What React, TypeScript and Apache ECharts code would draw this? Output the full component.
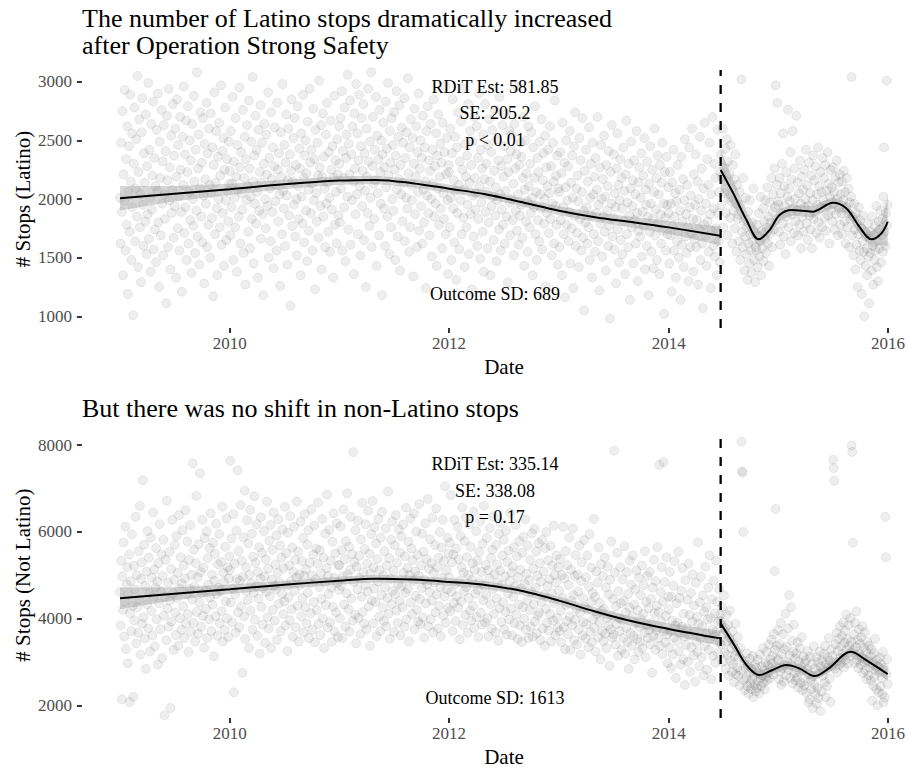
import { useEffect, useRef } from "react";
import * as echarts from "echarts";

const DAY_MS = 86400000;
const SERIF = "'Liberation Serif', 'Times New Roman', 'DejaVu Serif', serif";

// Policy start (Operation Strong Safety)
const cutoffDate = "2014-06-23";
const xTickYears = [2010, 2012, 2014, 2016];
const latinoTicks = [1000, 1500, 2000, 2500, 3000];
const notLatinoTicks = [2000, 4000, 6000, 8000];

// Daily stop counts, one value every second day starting on 1 January of each year.
const latino2009 = [
  2010, 1620, 2480, 1890, 2750, 1350, 2210, 1980, 2930, 1560, 2340, 1780, 2620, 1190, 2060,
  2450, 1720, 2890, 2150, 1480, 2560, 1930, 1010, 2300, 2780, 1640, 2090, 2510, 1850, 3050,
  1420, 2230, 2680, 1760, 2040, 1290, 2570, 2860, 1950, 1600, 2390, 2140, 1810, 2720, 1530,
  2280, 1870, 2990, 1660, 2420, 2010, 1380, 2640, 1910, 2200, 2830, 1570, 2350, 1740, 2110,
  1460, 2590, 2070, 2900, 1800, 1250, 2490, 2180, 1690, 2760, 1960, 2320, 1520, 2630, 2040,
  1830, 2410, 1110, 2710, 2160, 1590, 2940, 1990, 2270, 1400, 2540, 1880, 2080, 2810, 1670,
  2370, 1940, 2600, 1330, 2190, 2850, 1750, 2460, 2020, 1560, 2700, 2250, 1890, 1210, 2530,
  2120, 2960, 1710, 2380, 1930, 2670, 1480, 2230, 2790, 1620, 2060, 2500, 1820, 2330, 1370,
  2640, 2000, 1770, 2880, 2150, 1540, 2420, 1900, 3080, 1680, 2260, 2550, 1440, 2090, 2740,
  1850, 2310, 1630, 2690, 2030, 1280, 2470, 2170, 1960, 2820, 1590, 2390, 1780, 2600, 2120,
  1500, 2730, 2050, 1840, 2440, 1170, 2290, 2910, 1700, 2140, 2580, 1920, 1350, 2360, 2000,
  2650, 1760, 2200, 2970, 1610, 2410, 1880, 2520, 1430, 2250, 2780, 1990, 1650, 2340, 2070, 1810, 2490, 2130,
];
const latino2010 = [
  2240, 1690, 2580, 1930, 2130, 2870, 1480, 2320, 2010, 1760, 2690, 2190, 1380, 2460, 2080,
  1850, 2950, 2270, 1620, 2400, 2050, 1910, 2760, 1540, 2180, 2530, 1270, 2340, 1990, 2630,
  2110, 1720, 2840, 2260, 1580, 2020, 2490, 1830, 3040, 2150, 1450, 2370, 1960, 2710, 1790,
  2420, 2060, 1330, 2590, 1900, 2230, 2800, 1660, 2140, 2480, 1870, 1180, 2300, 2640, 2000,
  1750, 2550, 2210, 1940, 2910, 1500, 2350, 2090, 1640, 2740, 2170, 1890, 2440, 1410, 2280,
  2610, 1980, 2120, 1560, 2820, 2250, 1810, 2390, 2040, 1260, 2570, 2190, 1700, 2980, 2070,
  1920, 2460, 1600, 2310, 2720, 2030, 1440, 2160, 2600, 1860, 2380, 1090, 2240, 2850, 1770,
  2150, 2520, 1950, 2690, 1680, 2290, 2000, 1520, 2790, 2110, 1830, 2430, 2260, 1350, 2560,
  2020, 1790, 2890, 2180, 1630, 2370, 2500, 1900, 2220, 1470, 2660, 2080, 1730, 2940, 2310,
  1880, 2420, 2130, 1560, 2770, 1990, 2340, 1230, 2590, 2050, 1810, 2480, 2200, 1670, 3010,
  2270, 1940, 2630, 1400, 2190, 2730, 1850, 2360, 2090, 1590, 2550, 1960, 2820, 2140, 1720,
  2400, 2010, 1550, 2670, 2250, 1910, 2450, 1330, 2180, 2880, 1780, 2330, 2060, 1620, 2510, 2210, 1860, 2620,
];
const latino2011 = [
  2300, 1800, 2690, 2090, 2920, 1560, 2410, 2180, 1930, 2780, 1470, 2350, 2550, 2020, 3060,
  1740, 2470, 2210, 2840, 1610, 2380, 1990, 2620, 2150, 1360, 2730, 2260, 1870, 2980, 2040,
  2560, 1700, 2330, 2890, 2110, 1520, 2450, 2690, 1940, 2240, 2810, 1650, 2390, 2070, 1250,
  2600, 2190, 1880, 2940, 2320, 1770, 2490, 2010, 3080, 1590, 2280, 2700, 2130, 1830, 2420,
  2160, 2870, 1430, 2540, 2050, 2340, 1690, 2760, 2230, 1960, 2500, 1180, 2380, 2650, 1920,
  2270, 1600, 2830, 2100, 2430, 1850, 2990, 2200, 1530, 2580, 2310, 1760, 2690, 2000, 2460,
  1900, 2740, 2250, 1480, 2370, 2920, 2080, 1680, 2530, 2170, 2800, 1390, 2290, 2040, 2610,
  1810, 2480, 2140, 2860, 1640, 2350, 2010, 2570, 1920, 3030, 2220, 1550, 2440, 1760, 2680,
  2120, 1990, 2520, 1340, 2300, 2770, 1870, 2190, 2620, 1590, 2400, 2060, 2900, 1730, 2260,
  2500, 1940, 2350, 1620, 2710, 2080, 1800, 2440, 2150, 1240, 2580, 2030, 2790, 1880, 2330,
  1690, 2240, 2640, 2000, 1510, 2420, 2130, 2850, 1850, 2280, 1960, 2560, 1430, 2370, 2090,
  2720, 1780, 2190, 2470, 1920, 2310, 1580, 2650, 2050, 1830, 2400, 2960, 1700, 2210, 2520, 1990, 1360, 2290,
];
const latino2012 = [
  2230, 1760, 2600, 2010, 1480, 2390, 2850, 1920, 2160, 1630, 2530, 2070, 1310, 2440, 1880,
  2740, 2120, 1570, 2320, 1990, 2660, 1700, 2250, 2940, 1840, 2080, 1420, 2470, 2190, 1760,
  2370, 1950, 2810, 1530, 2140, 2580, 1870, 2290, 1230, 2490, 2030, 1680, 2700, 2180, 1910,
  2050, 2620, 1600, 2350, 1830, 2900, 2110, 1490, 2420, 1970, 2260, 1720, 2550, 1380, 2170,
  2810, 1890, 2300, 2060, 1580, 2460, 1800, 2680, 2150, 1350, 2400, 1940, 2590, 2020, 1650,
  2240, 2760, 1860, 2100, 1470, 2510, 1990, 2330, 1740, 2870, 2040, 1560, 2280, 1910, 2630,
  1780, 2190, 2450, 1620, 2070, 2720, 1850, 2340, 1290, 2230, 2580, 1970, 1690, 2410, 2000,
  2550, 1820, 2130, 1520, 2640, 2260, 1900, 2380, 1730, 2960, 2040, 1610, 2290, 1860, 2480,
  1950, 2360, 1670, 2180, 2700, 1430, 2080, 2500, 1810, 2220, 1980, 1550, 2620, 2110, 1760,
  2300, 1880, 2570, 2010, 1350, 2440, 1930, 2180, 2790, 1700, 2060, 1480, 2350, 1820, 2230,
  1640, 2490, 2040, 1920, 2680, 1570, 2160, 2390, 1790, 2000, 2540, 1250, 2270, 1880, 2110,
  2420, 1710, 2050, 2620, 1830, 2280, 1520, 1960, 2480, 2150, 1620, 2840, 1940, 2200, 1780, 2370, 1440, 2090,
];
const latino2013 = [
  2060, 1590, 2400, 1820, 2220, 1350, 2650, 1930, 1700, 2310, 1160, 2100, 2500, 1780, 1990,
  2280, 1640, 1890, 2580, 1450, 2140, 1750, 2370, 2010, 1240, 2450, 1860, 2740, 1600, 2090,
  1710, 2200, 1980, 1420, 2520, 1830, 2330, 1560, 2060, 2690, 1670, 1900, 1050, 2240, 1800,
  2420, 1930, 1620, 2150, 1760, 2610, 1480, 2010, 2300, 1860, 1330, 2480, 2040, 1700, 2190,
  1550, 2350, 1880, 2080, 2700, 1640, 1950, 1220, 2270, 1790, 2460, 2000, 1510, 2170, 1850,
  2540, 1720, 2020, 1390, 2290, 1900, 2110, 1600, 2410, 1770, 980, 2230, 1960, 2630, 1680,
  1840, 2380, 1570, 2050, 1930, 1280, 2260, 2560, 1740, 2120, 1460, 1990, 2340, 1650, 2180,
  1920, 1530, 2440, 1810, 2070, 1360, 2210, 2670, 1700, 1970, 1590, 2300, 1860, 1140, 2090,
  2490, 1760, 1940, 2160, 1450, 2330, 1820, 2040, 1620, 2580, 1880, 1300, 2140, 1730, 2270,
  1680, 2010, 2390, 1510, 1890, 2200, 1770, 2520, 1400, 2080, 1950, 1600, 2320, 1850, 1180,
  2130, 1720, 2450, 1960, 1550, 2250, 1830, 1410, 2060, 2600, 1690, 1910, 2180, 1480, 2370,
  1790, 2040, 1360, 2290, 1870, 1620, 2140, 2480, 1730, 1960, 1020, 2230, 1840, 1560, 2360, 1950, 1700, 2100,
];
const latino2014Pre = [
  1880, 1450, 2230, 1690, 1960, 1210, 2140, 1770, 2420, 1560, 1850, 2050, 1330, 1980, 1640,
  2290, 1720, 1500, 2080, 1900, 1140, 2360, 1610, 1810, 2170, 1420, 1990, 2510, 1680, 1870,
  1540, 2120, 1760, 1300, 2440, 1930, 1590, 2030, 1710, 2600, 1830, 1380, 2210, 1660, 1950,
  2380, 1590, 1820, 2150, 1270, 2000, 1740, 2530, 1480, 1900, 2260, 1620, 1070, 2090, 1780,
  2650, 1690, 1960, 1430, 2340, 1810, 2120, 1550, 2480, 1870, 1240, 2040, 1730, 2700, 1600,
  1920, 2300, 1510, 2180, 1750, 1350, 2590, 1880, 1640, 2060, 1460, 2230,
];
const latino2014Post = [
  2380, 1950, 2190, 2600, 1760, 2270, 2050, 2430, 1880, 2150, 2510, 1690, 2320, 2010, 2210,
  1840, 2460, 1980, 2090, 1620, 2290, 1900, 2170, 1750, 2380, 1960, 1550, 2120, 1830,
  1870, 1640, 2060, 1480, 1950, 3020, 1720, 1590, 2180, 1810, 1390, 1680, 2010, 1530, 1760,
  1310, 1890, 1620, 1450, 1990, 1700, 1560, 1370, 1800, 1640, 2090, 1480, 1720, 1290, 1590,
  1560, 1780, 1420, 1690, 1880, 1510, 1640, 2020, 1350, 1730, 1580, 1920, 1470, 1810, 1660,
  1990, 1540, 1760, 2100, 1620, 1850, 1430, 1970, 1700, 1800, 2180, 1590, 1890, 2040, 1740,
  2260, 1930, 2970, 1820, 2120, 2820, 1980,
];
const latino2015 = [
  1950, 1720, 2180, 1610, 2050, 1880, 2300, 1790, 2560, 1680, 2110, 1940, 1530, 2230, 1850, 2020,
  2760, 1760, 2090, 1980, 2400, 1640, 2170, 1870, 2580, 1920, 1710, 2260, 2000, 1810,
  2710, 1900, 2140, 1690, 2050, 1780, 2330, 1960, 1580, 2190, 1850, 2080, 1720, 2250, 1930,
  2000, 2420, 1790, 2120, 1650, 1940, 2310, 1860, 2050, 1740, 2200, 1580, 1990, 2370, 1830,
  2160, 1880, 2280, 1710, 2040, 1950, 2440, 1800, 2110, 1670, 2230, 1920, 2060, 1760, 2350,
  1990, 2180, 1840, 2290, 1730, 2070, 1950, 2400, 1860, 2130, 1620, 2020, 2250, 1900, 2100,
  1810, 2270, 1960, 2060, 1740, 2190, 1870, 2330, 2000, 1690, 2140, 1920, 2210, 1780, 2040, 1880,
  2150, 1700, 1990, 2240, 1810, 2060, 1620, 1930, 2180, 1760, 1880, 2090, 1590, 1970, 1830, 2020,
  3040, 1690, 1850, 1520, 1960, 1740, 1400, 1880, 1610, 1790, 1250, 1700, 1930, 1560, 1820,
  1480, 1750, 1190, 1640, 1860, 1550, 1000, 1720, 1430, 1680, 1580, 1350, 1790, 1510, 1110, 1660,
  1540, 1720, 1390, 1850, 1600, 1270, 1690, 1480, 1770, 1560, 1940, 1420, 1650, 1300, 1810,
  1580, 1740, 1900, 1460, 1690, 1830, 1550, 2020, 2440, 1720, 1600, 1880, 3010, 1780, 1950,
];

const notLatino2009 = [
  4620, 3850, 5340, 2150, 4980, 4210, 5760, 3590, 4400, 6120, 3310, 4790, 5190, 2980, 4560,
  5480, 2090, 4130, 4870, 3720, 5950, 4300, 2210, 5220, 3960, 4680, 6350, 3440, 5010, 4270,
  3680, 5560, 4450, 6600, 3180, 4920, 5300, 3890, 7190, 4040, 5710, 3550, 4760, 2850, 5090,
  4340, 6020, 3780, 5410, 4590, 3250, 5870, 4180, 4950, 3620, 6450, 4500, 5140, 3370, 4720,
  5630, 3990, 4860, 2950, 5280, 4360, 6180, 3760, 4640, 5480, 3100, 4990, 5820, 4070, 1780,
  4510, 5360, 3510, 6720, 4240, 4830, 3820, 5540, 4420, 1950, 5150, 3940, 6280, 4580, 3290,
  4900, 5700, 4150, 3630, 5910, 4480, 5060, 3380, 6390, 4700, 4020, 5420, 3750, 4810, 6040,
  4290, 5230, 3560, 4930, 6500, 3890, 4570, 5780, 4110, 3240, 5360, 4690, 6160, 3700, 5010,
  4450, 7580, 3910, 5590, 4740, 3480, 5280, 6830, 4160, 4960, 3660, 5720, 4380, 7350, 5080,
  3820, 4590, 6280, 4070, 5180, 3340, 5860, 4650, 4230, 6010, 3560, 5400, 4790, 3990, 5630,
  4490, 6430, 3720, 5020, 4330, 5750, 3140, 4880, 5500, 4060, 6190, 4570, 3610, 5260, 4720,
  5950, 3900, 4640, 5310, 4180, 6580, 3480, 5070, 4850, 3750, 5660, 4400, 6310, 4010, 5190, 3580, 4930, 5440,
];
const notLatino2010 = [
  5120, 7640, 4380, 5850, 3920, 4700, 6410, 2310, 5270, 4560, 3690, 6030, 4920, 7420, 4150,
  5560, 3810, 4880, 6620, 4290, 5340, 2760, 4970, 5880, 4060, 6950, 3540, 5190, 4640, 6270,
  4430, 5740, 3330, 5010, 6510, 4190, 4820, 5960, 3750, 5430, 4600, 6820, 3980, 5290, 4750,
  6180, 3610, 5080, 4470, 5650, 3200, 4930, 6340, 4280, 5520, 3870, 4710, 6020, 4980, 3450,
  5370, 4620, 6700, 4040, 5160, 3780, 5800, 4520, 6160, 3330, 4900, 5590, 4210, 6450, 4750,
  3960, 5250, 4680, 5920, 3520, 5060, 6290, 4350, 4840, 5690, 3720, 5410, 4570, 6060, 4110,
  5170, 4400, 6580, 3850, 5510, 4760, 3260, 5980, 4500, 5230, 3970, 6370, 4870, 4220, 5640,
  3590, 5080, 6120, 4650, 5360, 3810, 4950, 6700, 4300, 5550, 3480, 5020, 4780, 6240, 4060,
  5330, 4480, 5860, 3690, 4990, 6410, 4270, 5140, 3900, 5710, 4600, 6040, 3560, 5290, 4820,
  4130, 6520, 5000, 3750, 5480, 4390, 6150, 3460, 4910, 5620, 4200, 5270, 6680, 3880, 4730,
  5580, 3630, 5050, 4460, 6300, 4010, 5410, 3330, 4850, 5960, 4320, 5170, 6860, 3800, 4990,
  4570, 6050, 3920, 5340, 4720, 3470, 5780, 4280, 6430, 4940, 3710, 5510, 4150, 6200, 4830, 3580, 5230, 4670,
];
const notLatino2011 = [
  5240, 4010, 6130, 4760, 5580, 3560, 4980, 6520, 4330, 5370, 3820, 5790, 4590, 6890, 5020,
  4220, 5660, 3710, 5130, 6350, 4470, 5490, 3960, 7840, 4850, 5310, 4100, 6040, 3440, 5200,
  4680, 6260, 4020, 5450, 4940, 3650, 5830, 4510, 6670, 4160, 5070, 3890, 5610, 4780, 6180,
  3760, 5270, 4630, 6490, 4290, 5500, 3380, 5040, 5950, 4420, 6710, 3900, 5180, 4700, 6110,
  4390, 5740, 3600, 5380, 4860, 6300, 4050, 5120, 3720, 5870, 4550, 6460, 4260, 5000, 3950,
  5560, 4730, 6080, 3830, 5230, 4480, 6930, 4120, 5400, 3540, 4920, 5820, 4340, 6240, 4650,
  5110, 3700, 5690, 4570, 6390, 4190, 5290, 3910, 4800, 6060, 4410, 5520, 3620, 5900, 4750,
  4270, 6170, 5060, 3820, 5440, 4600, 6560, 3990, 5170, 4690, 5780, 3480, 5010, 6310, 4380,
  5620, 4110, 5350, 4870, 6430, 3760, 5090, 4530, 6010, 4210, 5470, 3940, 4990, 6640, 4460,
  3880, 5230, 4710, 5960, 4030, 5550, 3570, 4900, 6200, 4360, 5380, 4790, 6760, 3830, 5150,
  4620, 5830, 3990, 5280, 4420, 6330, 3690, 5060, 4840, 5700, 4150, 6540, 4560, 5190, 3780,
  5410, 4300, 6000, 4730, 3600, 5640, 4940, 6280, 4080, 5330, 4520, 7050, 3910, 5120, 4680, 5870, 4250, 5500,
];
const notLatino2012 = [
  4960, 5750, 4180, 6850, 4620, 5300, 3720, 5480, 4370, 6280, 4800, 3950, 5620, 4520, 6120,
  4260, 5370, 4870, 3530, 5910, 4410, 5190, 6560, 3860, 5060, 4640, 5790, 4090, 6330, 4730,
  5420, 3680, 5010, 4480, 6180, 4190, 5660, 3960, 4900, 5280, 4300, 6470, 3790, 5130, 4580,
  6020, 4040, 5340, 4670, 3580, 5540, 4850, 6250, 4140, 5080, 3870, 5730, 4430, 6600, 4760,
  3920, 5240, 4550, 5860, 4010, 5120, 3600, 4940, 6090, 4340, 5400, 3780, 5590, 4690, 6360,
  4120, 5030, 3690, 5700, 4470, 5250, 4830, 3500, 5960, 4250, 5110, 6210, 3930, 4780, 5460,
  4380, 5820, 3760, 4980, 4160, 6030, 3640, 5310, 4590, 5570, 3990, 4870, 6440, 4240, 5070,
  3620, 5210, 4510, 5650, 3900, 4750, 6160, 4100, 5440, 3540, 4960, 4330, 5790, 3850, 5130,
  4700, 3470, 5520, 4270, 5890, 4000, 4810, 6290, 3760, 5040, 4420, 5690, 3560, 4890, 4200,
  5360, 3820, 4630, 5970, 3590, 5160, 4340, 6070, 3940, 4720, 5550, 3670, 4990, 4080, 5740,
  4150, 5280, 3510, 4860, 4390, 5820, 3780, 5090, 4560, 3380, 5630, 4230, 6000, 3910, 4760,
  5350, 3730, 4920, 4110, 5680, 3480, 4580, 5230, 3960, 6150, 4370, 5010, 3620, 4840, 5460, 4020, 3800, 5190,
];
const notLatino2013 = [
  4650, 3720, 5380, 4190, 3460, 5010, 4480, 6120, 3810, 4930, 3300, 5560, 4320, 3950, 5240,
  3640, 4780, 5870, 4060, 3290, 5130, 4420, 3850, 6080, 4550, 3510, 4990, 3980, 5470, 4230,
  3410, 5020, 4630, 3760, 5690, 4140, 3180, 4870, 5300, 3620, 4480, 3930, 5810, 4270, 3550,
  4960, 3880, 5460, 4210, 3350, 4740, 5950, 3700, 4390, 5180, 3460, 4600, 3990, 6300, 3790,
  4510, 3250, 5090, 4110, 4830, 3580, 5640, 3930, 4370, 3070, 5260, 4180, 3720, 4990, 3490,
  4230, 5410, 3660, 4720, 3330, 4020, 5200, 3850, 4560, 2920, 4900, 3760, 5780, 4080, 3570,
  4460, 3640, 7870, 5060, 3410, 4290, 3880, 5520, 3150, 4640, 4010, 3720, 5190, 4360, 3290,
  3980, 4910, 3560, 4420, 5670, 3200, 4140, 3790, 5080, 3470, 4570, 2850, 4260, 5340, 3680,
  4790, 3390, 4050, 5460, 3610, 4330, 3070, 4680, 3900, 5110, 3540, 4200, 3240, 4950, 3820,
  3470, 4550, 3990, 5230, 3330, 4110, 4780, 3680, 5560, 3120, 4390, 3860, 4990, 3560, 4250,
  3750, 5080, 3420, 4460, 3910, 2760, 4720, 3610, 5360, 4130, 3290, 4870, 3740, 4310, 5650,
  3560, 4160, 7540, 3380, 4620, 3950, 5190, 3190, 4400, 7610, 3720, 4850, 3460, 4070, 5420, 3640, 2980, 4510,
];
const notLatino2014Pre = [
  4220, 3340, 5080, 3720, 2870, 4510, 3960, 3180, 4760, 3570, 5330, 3850, 2640, 4360, 3490,
  3910, 5550, 3260, 4480, 3680, 2950, 4650, 3820, 5170, 3070, 4120, 3600, 2480, 4890, 3400,
  3780, 4440, 3010, 5270, 3630, 4090, 2780, 4600, 3350, 3940, 5020, 3160, 4310, 3700, 2560,
  4830, 3470, 4050, 3240, 5760, 3890, 2910, 4380, 3560, 4970, 3120, 3830, 4540, 2700, 4170,
  3380, 5200, 3660, 4260, 2830, 3990, 4720, 3290, 5460, 3540, 4020, 2610, 4450, 3760, 3150,
  4880, 3600, 4130, 2990, 5340, 3720, 4400, 3210, 3940, 4690, 3450, 4100,
];
const notLatino2014Post = [
  3950, 3410, 4280, 3020, 3660, 4540, 3230, 3790, 2850, 4100, 3480, 3170, 3870, 2690, 3560,
  4190, 3040, 3330, 2780, 3710, 2960, 3420, 2540, 3150, 3890, 2730, 3260, 2880, 3580,
  2690, 3120, 2470, 3340, 2810, 8080, 7400, 7360, 6000, 2590, 3030, 2360, 2870, 2640, 3210,
  2450, 2930, 2280, 2760, 3080, 2520, 2390, 2850, 2610, 3150, 2200, 2710, 2480, 2950, 2330,
  2870, 2410, 3060, 2560, 2750, 2290, 3180, 2640, 2460, 2910, 2700, 3330, 2530, 2820, 2380,
  3000, 2670, 3240, 2590, 2940, 2760, 3410, 2630, 3070, 2860, 3520, 2970, 3160, 2720, 3650,
  5100, 3290, 6530, 2890, 3380, 3050, 3740,
];
const notLatino2015 = [
  3080, 2610, 3420, 2790, 3910, 2480, 3190, 2870, 3650, 2560, 3300, 2950, 4120, 2700, 3360, 3010,
  3780, 2830, 4550, 3160, 2640, 4270, 2940, 3500, 2510, 3240, 3870, 2760, 3090, 2590,
  3210, 2650, 3460, 2420, 3020, 2780, 3330, 2530, 2900, 3580, 2360, 2810, 3140, 2470, 2990,
  2570, 3050, 2300, 2840, 3260, 2080, 2720, 2150, 3130, 2600, 2380, 2950, 1950, 2680, 3370,
  2490, 2860, 2270, 3120, 2050, 2410, 3000, 2180, 2760, 3250, 1880, 2900, 2330, 3040, 2690,
  2820, 3190, 2540, 3380, 2200, 2960, 2450, 3110, 2880, 3560, 2630, 3040, 2090, 3300, 2920,
  3150, 7660, 7470, 7180, 2860, 3420, 3010, 3680, 2770, 3260, 3540, 2940, 3830, 3100, 3370, 2990,
  3610, 3190, 3920, 2880, 3450, 3730, 3060, 4100, 3290, 3540, 2970, 3860, 3380, 3150, 4020, 3470,
  7990, 7840, 5750, 3280, 3640, 2990, 3910, 3350, 4170, 3060, 3520, 2870, 3760, 3200, 3430,
  2950, 3580, 3120, 3830, 2760, 3340, 3010, 3690, 2820, 3250, 2610, 3470, 3040, 2700, 3380, 2880,
  3150, 2580, 3300, 2120, 2990, 2460, 3210, 2670, 3540, 2820, 2380, 3060, 2010, 2900, 2310,
  2780, 3110, 2450, 2960, 2640, 2270, 3240, 2080, 2870, 2190, 6350, 5420, 2730, 3070, 2500,
];

// Local regression fits on each side of the cutoff, with half-widths of the 95% band.
const fitDatesPre = [
  "2009-01-01", "2009-07-01", "2010-01-01", "2010-07-01", "2011-01-01",
  "2011-05-01", "2011-09-01", "2012-01-01", "2012-05-01", "2012-09-01",
  "2013-01-01", "2013-05-01", "2013-09-01", "2014-01-01", "2014-06-22",
];
const latinoFitPre = [2006, 2045, 2083, 2125, 2157, 2163, 2135, 2088, 2040, 1972, 1900, 1845, 1803, 1758, 1686];
const latinoBandPre = [105, 65, 48, 40, 36, 35, 35, 35, 35, 36, 38, 40, 45, 55, 80];
const notLatinoFitPre = [4473, 4580, 4680, 4785, 4880, 4925, 4905, 4850, 4780, 4640, 4420, 4170, 3945, 3770, 3552];
const notLatinoBandPre = [250, 150, 110, 95, 90, 90, 90, 90, 90, 90, 95, 100, 110, 130, 175];

const latinoFitDatesPost = [
  "2014-06-23", "2014-08-04", "2014-09-17", "2014-10-28", "2014-12-03", "2015-01-05", "2015-02-14",
  "2015-04-24", "2015-07-02", "2015-08-15", "2015-09-28", "2015-11-07", "2015-12-10", "2015-12-31",
];
const latinoFitPost = [2248, 2049, 1821, 1656, 1735, 1863, 1906, 1892, 1969, 1921, 1763, 1656, 1707, 1806];
const latinoBandPost = [170, 110, 75, 65, 55, 50, 48, 48, 50, 52, 60, 65, 100, 210];

const notLatinoFitDatesPost = [
  "2014-06-23", "2014-08-04", "2014-09-17", "2014-10-30", "2014-12-13", "2015-01-27",
  "2015-03-12", "2015-05-01", "2015-06-18", "2015-08-30", "2015-10-20", "2015-12-31",
];
const notLatinoFitPost = [3897, 3437, 2938, 2708, 2823, 2938, 2862, 2685, 2862, 3244, 3053, 2731];
const notLatinoBandPost = [190, 140, 110, 100, 100, 100, 100, 100, 100, 110, 120, 160];

const latinoStats = ["RDiT Est: 581.85", "SE: 205.2", "p < 0.01"];
const latinoSD = "Outcome SD: 689";
const notLatinoStats = ["RDiT Est: 335.14", "SE: 338.08", "p = 0.17"];
const notLatinoSD = "Outcome SD: 1613";

const toTime = (d: string) => Date.parse(d + "T00:00:00Z");

function everySecondDay(years: [number, number[]][]) {
  const pts: [number, number][] = [];
  years.forEach(([year, values]) => {
    const start = Date.UTC(year, 0, 1);
    values.forEach((v, i) => pts.push([start + i * 2 * DAY_MS, v]));
  });
  return pts;
}

const latinoPoints = everySecondDay([
  [2009, latino2009], [2010, latino2010], [2011, latino2011], [2012, latino2012],
  [2013, latino2013], [2014, [...latino2014Pre, ...latino2014Post]], [2015, latino2015],
]);
const notLatinoPoints = everySecondDay([
  [2009, notLatino2009], [2010, notLatino2010], [2011, notLatino2011], [2012, notLatino2012],
  [2013, notLatino2013], [2014, [...notLatino2014Pre, ...notLatino2014Post]], [2015, notLatino2015],
]);

const curve = (dates: string[], values: number[]) => dates.map((d, i) => [toTime(d), values[i]]);

const X_MIN = Date.UTC(2008, 11, 5);
const X_MAX = Date.UTC(2016, 0, 28);
const GRID_LEFT = 111.9;
const GRID_WIDTH = 784.9;

function bandSeries(idx: number, dates: string[], fit: number[], half: number[]) {
  const upper = dates.map((d, i) => [toTime(d), fit[i] + half[i]]);
  const lower = dates.map((d, i) => [toTime(d), fit[i] - half[i]]).reverse();
  return {
    type: "custom",
    xAxisIndex: idx,
    yAxisIndex: idx,
    silent: true,
    clip: true,
    z: 3,
    data: [[toTime(dates[0]), fit[0]]],
    renderItem: (_params: any, api: any) => {
      const points = upper.concat(lower).map((p) => api.coord(p));
      return { type: "polygon", shape: { points }, style: { fill: "rgba(153,153,153,0.4)" } };
    },
  };
}

function lineSeries(idx: number, data: number[][], extra: any = {}) {
  return {
    type: "line",
    xAxisIndex: idx,
    yAxisIndex: idx,
    data,
    symbol: "none",
    silent: true,
    z: 4,
    smooth: 0.35,
    lineStyle: { color: "#000", width: 2 },
    ...extra,
  };
}

function panelSeries(
  idx: number,
  points: [number, number][],
  yRange: [number, number],
  pre: [string[], number[], number[]],
  post: [string[], number[], number[]]
) {
  const cut = toTime(cutoffDate);
  return [
    {
      type: "scatter",
      xAxisIndex: idx,
      yAxisIndex: idx,
      data: points,
      symbolSize: 9,
      silent: true,
      progressive: 0,
      large: false,
      z: 2,
      itemStyle: { color: "rgba(0,0,0,0.085)", borderColor: "rgba(0,0,0,0.09)", borderWidth: 1 },
    },
    bandSeries(idx, pre[0], pre[1], pre[2]),
    bandSeries(idx, post[0], post[1], post[2]),
    lineSeries(idx, curve(pre[0], pre[1])),
    lineSeries(idx, curve(post[0], post[1])),
    lineSeries(idx, [[cut, yRange[0]], [cut, yRange[1]]], {
      smooth: false,
      z: 5,
      lineStyle: { color: "#000", width: 2.3, type: [9, 9] },
    }),
  ];
}

const tickTimes = xTickYears.map((y) => Date.UTC(y, 0, 1));

function xAxis(idx: number) {
  return {
    type: "value",
    gridIndex: idx,
    min: X_MIN,
    max: X_MAX,
    axisLine: { show: false },
    splitLine: { show: false },
    axisTick: { show: true, customValues: tickTimes, length: 5, lineStyle: { color: "#333", width: 2 } },
    axisLabel: {
      customValues: tickTimes,
      formatter: (v: number) => String(new Date(v).getUTCFullYear()),
      color: "#4d4d4d",
      fontSize: 17,
      fontFamily: SERIF,
      margin: 7,
    },
  };
}

function yAxis(idx: number, range: [number, number], ticks: number[]) {
  return {
    type: "value",
    gridIndex: idx,
    min: range[0],
    max: range[1],
    offset: 30,
    axisLine: { show: false },
    splitLine: { show: false },
    axisTick: { show: true, customValues: ticks, length: 5, lineStyle: { color: "#333", width: 2 } },
    axisLabel: {
      customValues: ticks,
      formatter: (v: number) => String(v),
      color: "#4d4d4d",
      fontSize: 17,
      fontFamily: SERIF,
      margin: 10,
    },
  };
}

function text(str: string, x: number, y: number, size: number, align = "center", rotation = 0) {
  return {
    type: "text",
    x,
    y,
    rotation,
    silent: true,
    style: {
      text: str,
      fontSize: size,
      fontFamily: SERIF,
      fill: "#000",
      textAlign: align,
      textVerticalAlign: "middle",
    },
  };
}

const latinoRange: [number, number] = [900, 3100];
const notLatinoRange: [number, number] = [1720, 8300];

export default function App() {
  const ref = useRef<HTMLDivElement>(null);

  useEffect(() => {
    if (!ref.current) return;
    const chart = echarts.init(ref.current, undefined, { renderer: "svg" });
    chart.setOption({
      animation: false,
      backgroundColor: "#fff",
      textStyle: { fontFamily: SERIF },
      grid: [
        { left: GRID_LEFT, width: GRID_WIDTH, top: 70, height: 258 },
        { left: GRID_LEFT, width: GRID_WIDTH, top: 432, height: 286 },
      ],
      xAxis: [xAxis(0), xAxis(1)],
      yAxis: [yAxis(0, latinoRange, latinoTicks), yAxis(1, notLatinoRange, notLatinoTicks)],
      series: [
        ...panelSeries(
          0,
          latinoPoints,
          latinoRange,
          [fitDatesPre, latinoFitPre, latinoBandPre],
          [latinoFitDatesPost, latinoFitPost, latinoBandPost]
        ),
        ...panelSeries(
          1,
          notLatinoPoints,
          notLatinoRange,
          [fitDatesPre, notLatinoFitPre, notLatinoBandPre],
          [notLatinoFitDatesPost, notLatinoFitPost, notLatinoBandPost]
        ),
      ],
      graphic: [
        text("The number of Latino stops dramatically increased", 82, 18, 26, "left"),
        text("after Operation Strong Safety", 82, 45, 26, "left"),
        text("But there was no shift in non-Latino stops", 82, 408, 26, "left"),
        text("# Stops (Latino)", 23, 199, 21, "center", Math.PI / 2),
        text("# Stops (Not Latino)", 23, 575, 21, "center", Math.PI / 2),
        text("Date", 504, 367, 21),
        text("Date", 504, 757, 21),
        text(latinoStats[0], 495, 86.5, 18),
        text(latinoStats[1], 495, 113, 18),
        text(latinoStats[2], 495, 139.5, 18),
        text(latinoSD, 495, 294, 18),
        text(notLatinoStats[0], 495, 463.5, 18),
        text(notLatinoStats[1], 495, 490.5, 18),
        text(notLatinoStats[2], 495, 516.5, 18),
        text(notLatinoSD, 495, 698, 18),
      ],
    });
    return () => chart.dispose();
  }, []);

  return (
    <div
      ref={ref}
      style={{ position: "fixed", left: 0, top: 0, width: 908, height: 768, background: "#fff" }}
    />
  );
}
